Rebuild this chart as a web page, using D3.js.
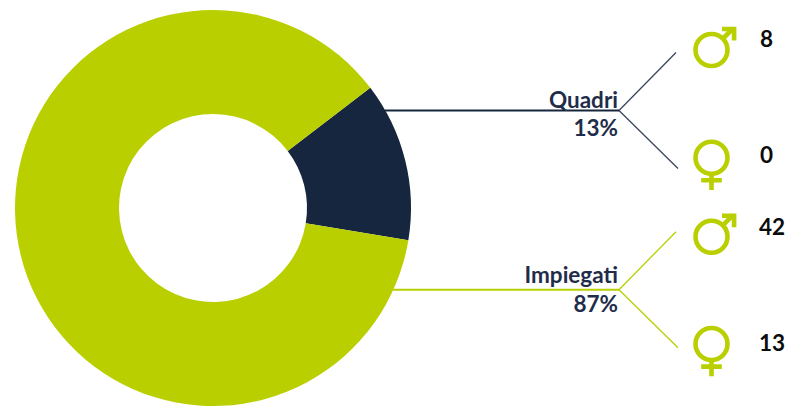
<!DOCTYPE html>
<html>
<head>
<meta charset="utf-8">
<script src="https://cdn.jsdelivr.net/npm/d3@7"></script>
<style>
html,body{margin:0;padding:0;background:#fff;overflow:hidden}
text{font-family:Lato,"Open Sans",sans-serif;font-weight:700}
</style>
</head>
<body>
<div id="chart"></div>
<script>
var categories = ["Quadri", "Impiegati"];
var shares = [13, 87];
var maleCounts = [8, 42];
var femaleCounts = [0, 13];

var navy = "#16263f", lime = "#b9cf00";
var colors = [navy, lime];

var svg = d3.select("#chart").append("svg").attr("width", 786).attr("height", 406);

// donut
var cx = 213, cy = 208;
var startAngle = 52.6 * Math.PI / 180;
var pie = d3.pie().sort(null).startAngle(startAngle).endAngle(startAngle + 2 * Math.PI);
var arc = d3.arc().innerRadius(94).outerRadius(198);

svg.append("g").attr("transform", "translate(" + cx + "," + cy + ")")
    .selectAll("path").data(pie(shares)).enter().append("path")
    .attr("d", arc)
    .attr("fill", (d, i) => colors[i]);

// one row per category
var rowY = d3.scaleOrdinal().domain(categories).range([110.5, 289.7]);
var lineStart = d3.scaleOrdinal().domain(categories).range([385, 393]);
var nameY = d3.scaleOrdinal().domain(categories).range([107.5, 283]);
var shareY = d3.scaleOrdinal().domain(categories).range([135.7, 311.7]);
var maleY = d3.scaleOrdinal().domain(categories).range([50, 236.7]);
var femaleY = d3.scaleOrdinal().domain(categories).range([157.7, 344]);
var maleTextY = d3.scaleOrdinal().domain(categories).range([47, 235]);
var femaleTextY = d3.scaleOrdinal().domain(categories).range([163, 351]);
var forkX = 619, iconX = 711.5, labelSize = 22.5;

var rows = svg.selectAll("g.row").data(categories).enter().append("g").attr("class", "row");

rows.append("line")
    .attr("x1", d => lineStart(d)).attr("x2", forkX)
    .attr("y1", d => rowY(d)).attr("y2", d => rowY(d))
    .attr("stroke", (d, i) => colors[i]).attr("stroke-width", 2);

rows.append("line")
    .attr("x1", forkX).attr("y1", d => rowY(d))
    .attr("x2", 676).attr("y2", d => rowY(d) - 58)
    .attr("stroke", (d, i) => colors[i]).attr("stroke-width", 1.3).attr("stroke-opacity", (d, i) => i ? 1 : .85);

rows.append("line")
    .attr("x1", forkX).attr("y1", d => rowY(d))
    .attr("x2", 678).attr("y2", d => rowY(d) + 58)
    .attr("stroke", (d, i) => colors[i]).attr("stroke-width", 1.3).attr("stroke-opacity", (d, i) => i ? 1 : .85);

rows.append("text")
    .attr("x", 618).attr("y", d => nameY(d))
    .attr("text-anchor", "end").attr("font-size", labelSize).attr("fill", "#1f2d4a")
    .text(d => d);

rows.append("text")
    .attr("x", 618).attr("y", d => shareY(d))
    .attr("text-anchor", "end").attr("font-size", labelSize).attr("fill", "#1f2d4a")
    .text((d, i) => shares[i] + "%");

// male icon
var male = rows.append("g")
    .attr("transform", d => "translate(" + iconX + "," + maleY(d) + ")")
    .attr("fill", "none").attr("stroke", lime).attr("stroke-width", 4.6);
male.append("circle").attr("r", 16);
male.append("path").attr("d", "M11,-11L22,-22M10.5,-21H22.6V-9.5");

// female icon
var female = rows.append("g")
    .attr("transform", d => "translate(" + iconX + "," + femaleY(d) + ")")
    .attr("fill", "none").attr("stroke", lime).attr("stroke-width", 4.6);
female.append("circle").attr("r", 16);
female.append("path").attr("d", "M0,16V32.3M-10.3,22.6H10.3");

// counts
rows.append("text")
    .attr("y", d => maleTextY(d))
    .attr("text-anchor", "end").attr("font-size", labelSize).attr("fill", "#0c0c0c")
    .attr("x", (d, i) => i ? 785 : 773)
    .text((d, i) => maleCounts[i]);

rows.append("text")
    .attr("y", d => femaleTextY(d))
    .attr("text-anchor", "end").attr("font-size", labelSize).attr("fill", "#0c0c0c")
    .attr("x", (d, i) => i ? 785 : 773)
    .text((d, i) => femaleCounts[i]);
</script>
</body>
</html>
